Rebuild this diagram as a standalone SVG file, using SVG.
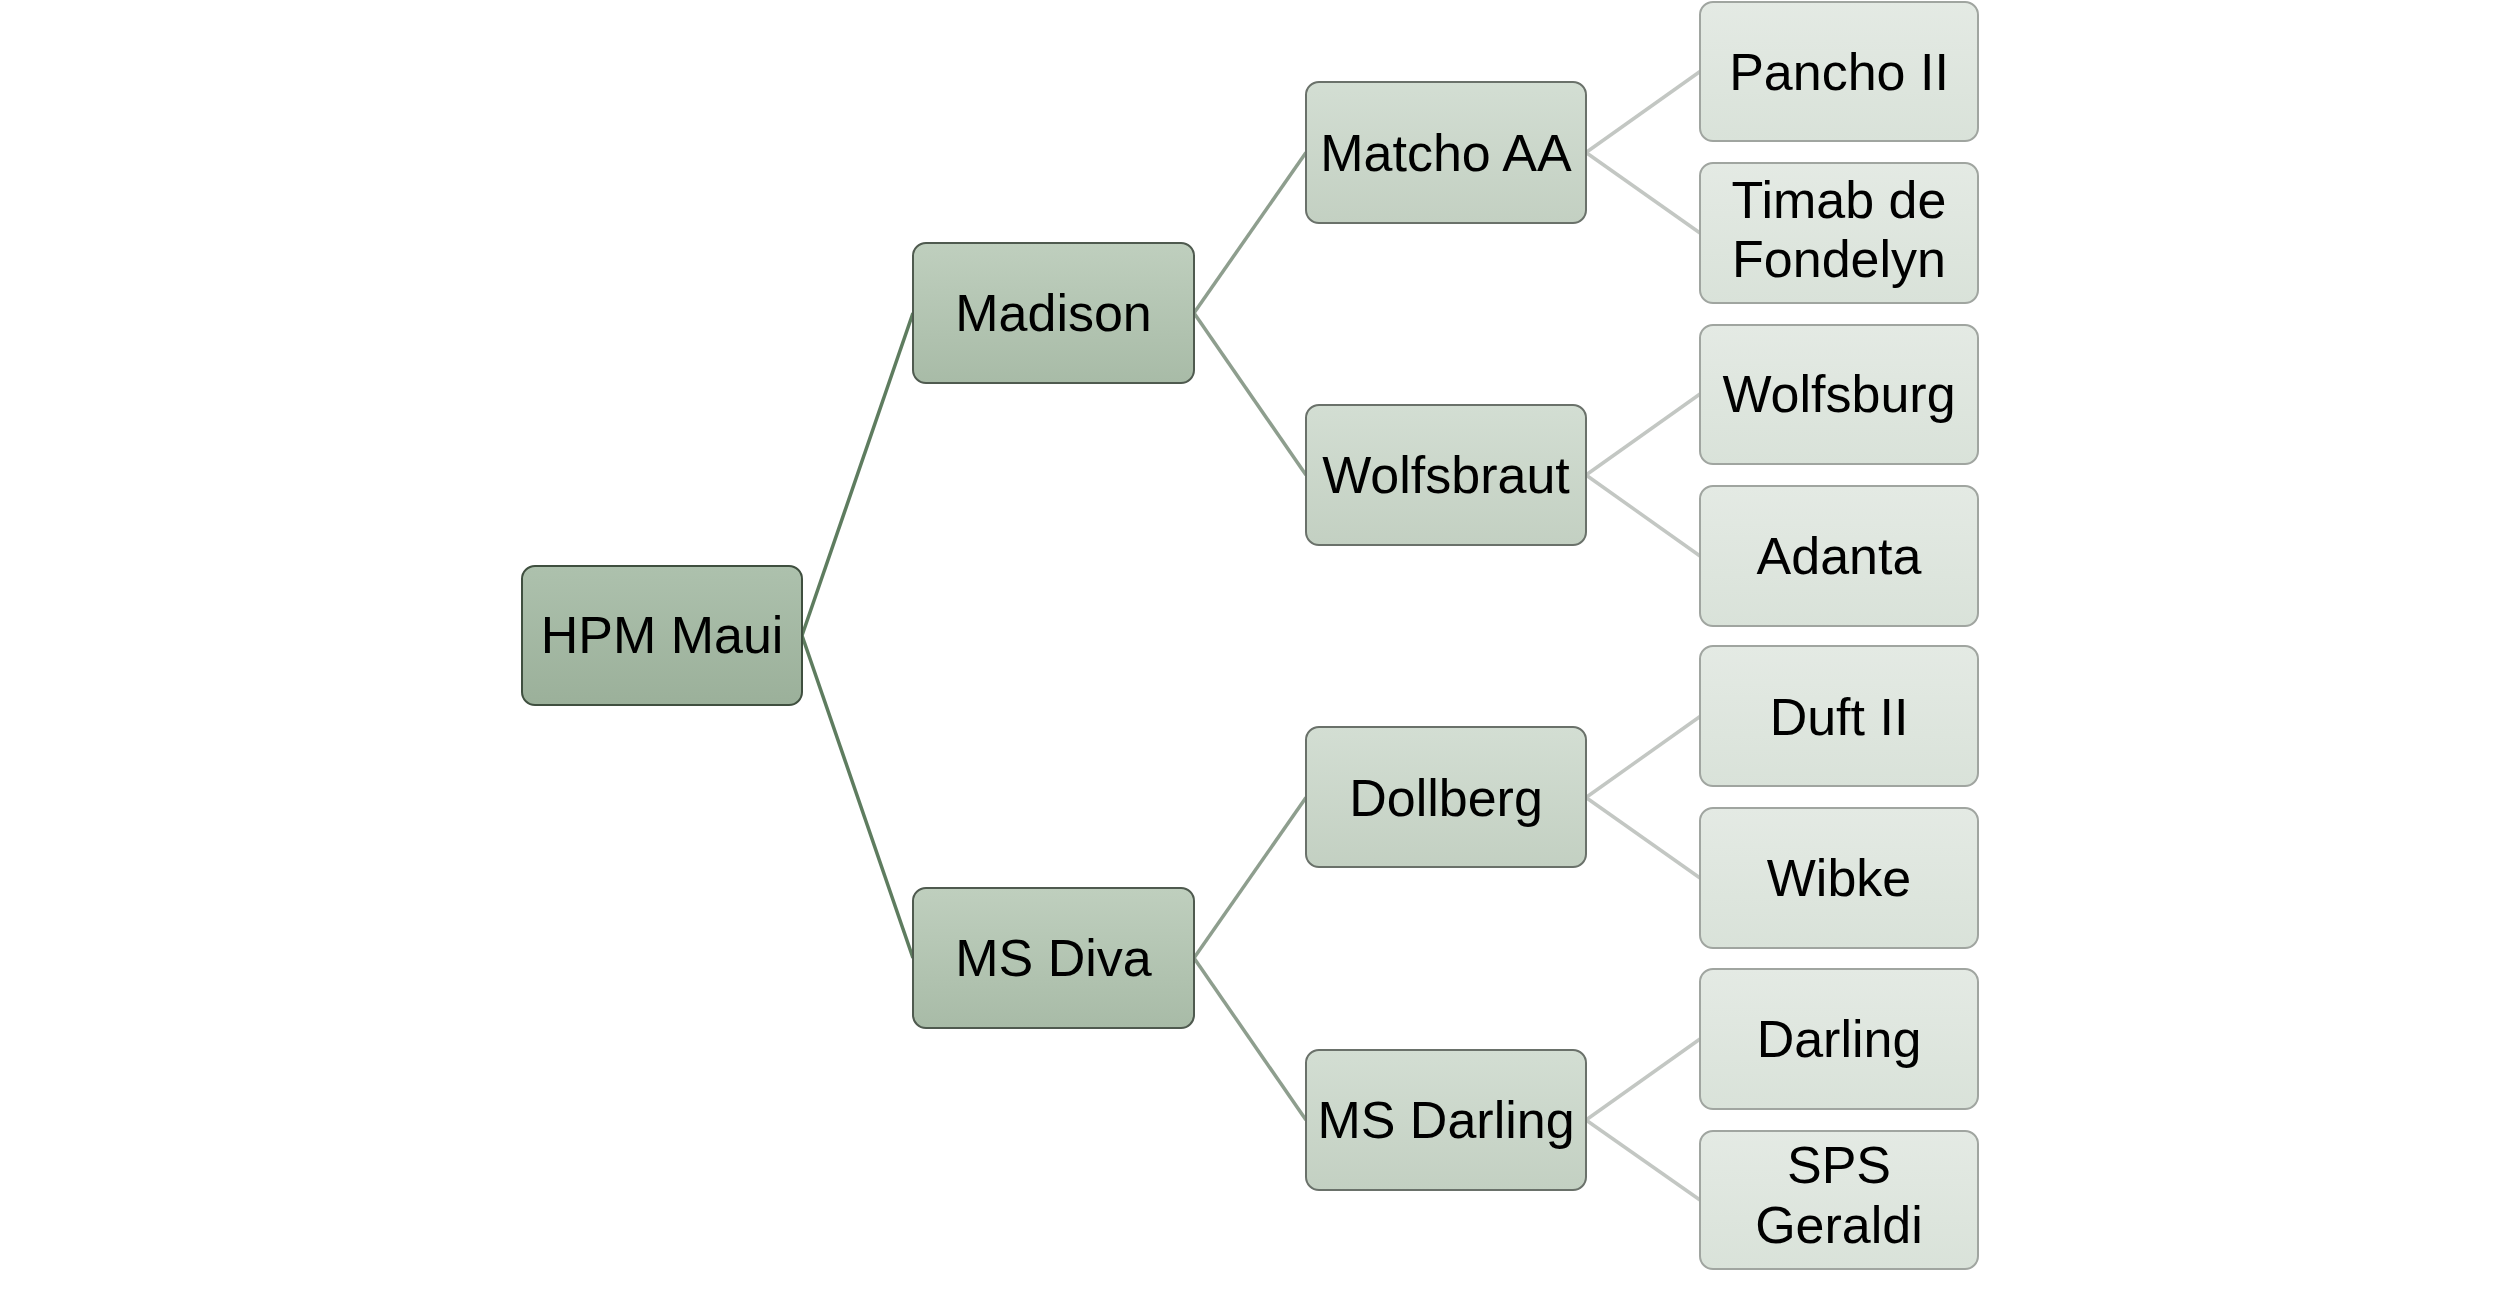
<svg xmlns="http://www.w3.org/2000/svg" width="2500" height="1292" viewBox="0 0 2500 1292">
<defs>
<linearGradient id="g0" x1="0" y1="0" x2="0" y2="1"><stop offset="0" stop-color="#adc1ad"/><stop offset="1" stop-color="#9bb09a"/></linearGradient>
<linearGradient id="g1" x1="0" y1="0" x2="0" y2="1"><stop offset="0" stop-color="#bfcfbe"/><stop offset="1" stop-color="#a8bba7"/></linearGradient>
<linearGradient id="g2" x1="0" y1="0" x2="0" y2="1"><stop offset="0" stop-color="#d3ded3"/><stop offset="1" stop-color="#c3d0c2"/></linearGradient>
<linearGradient id="g3" x1="0" y1="0" x2="0" y2="1"><stop offset="0" stop-color="#e4eae4"/><stop offset="1" stop-color="#d9e2d9"/></linearGradient>
</defs>
<style>
text{font-family:"Liberation Sans",Arial,sans-serif;font-size:52px;fill:#000;text-anchor:middle}
.n0{fill:url(#g0);stroke:#3f4f3f;stroke-width:2}
.n1{fill:url(#g1);stroke:#4f5a4f;stroke-width:2}
.n2{fill:url(#g2);stroke:#6a716a;stroke-width:2}
.n3{fill:url(#g3);stroke:#a0a5a0;stroke-width:2}
.c0{stroke:#5e7c5f;stroke-width:3.5;fill:none}
.c1{stroke:#8e9e8e;stroke-width:3.5;fill:none}
.c2{stroke:#c3c7c3;stroke-width:3.5;fill:none}
</style>
<rect width="2500" height="1292" fill="#fff"/>
<g id="connectors">
<line class="c0" x1="802" y1="635.5" x2="913" y2="313"/>
<line class="c0" x1="802" y1="635.5" x2="913" y2="958"/>
<line class="c1" x1="1194" y1="313" x2="1306" y2="152.5"/>
<line class="c1" x1="1194" y1="313" x2="1306" y2="475"/>
<line class="c1" x1="1194" y1="958" x2="1306" y2="797.5"/>
<line class="c1" x1="1194" y1="958" x2="1306" y2="1120"/>
<line class="c2" x1="1586" y1="152.5" x2="1700" y2="71.5"/>
<line class="c2" x1="1586" y1="152.5" x2="1700" y2="233"/>
<line class="c2" x1="1586" y1="475" x2="1700" y2="394"/>
<line class="c2" x1="1586" y1="475" x2="1700" y2="556"/>
<line class="c2" x1="1586" y1="797.5" x2="1700" y2="716.5"/>
<line class="c2" x1="1586" y1="797.5" x2="1700" y2="878"/>
<line class="c2" x1="1586" y1="1120" x2="1700" y2="1039"/>
<line class="c2" x1="1586" y1="1120" x2="1700" y2="1200"/>
</g>
<g id="hpm-maui"><rect class="n0" x="522" y="566" width="280" height="139" rx="13"/><text x="662" y="653">HPM Maui</text></g>
<g id="madison"><rect class="n1" x="913" y="243" width="281" height="140" rx="13"/><text x="1053.5" y="331">Madison</text></g>
<g id="ms-diva"><rect class="n1" x="913" y="888" width="281" height="140" rx="13"/><text x="1053.5" y="976">MS Diva</text></g>
<g id="matcho-aa"><rect class="n2" x="1306" y="82" width="280" height="141" rx="13"/><text x="1446" y="171">Matcho AA</text></g>
<g id="wolfsbraut"><rect class="n2" x="1306" y="405" width="280" height="140" rx="13"/><text x="1446" y="493">Wolfsbraut</text></g>
<g id="dollberg"><rect class="n2" x="1306" y="727" width="280" height="140" rx="13"/><text x="1446" y="816">Dollberg</text></g>
<g id="ms-darling"><rect class="n2" x="1306" y="1050" width="280" height="140" rx="13"/><text x="1446" y="1138">MS Darling</text></g>
<g id="pancho-ii"><rect class="n3" x="1700" y="2" width="278" height="139" rx="13"/><text x="1839" y="90">Pancho II</text></g>
<g id="timab"><rect class="n3" x="1700" y="163" width="278" height="140" rx="13"/><text x="1839" y="218">Timab de</text><text x="1839" y="277">Fondelyn</text></g>
<g id="wolfsburg"><rect class="n3" x="1700" y="325" width="278" height="139" rx="13"/><text x="1839" y="412">Wolfsburg</text></g>
<g id="adanta"><rect class="n3" x="1700" y="486" width="278" height="140" rx="13"/><text x="1839" y="574">Adanta</text></g>
<g id="duft-ii"><rect class="n3" x="1700" y="646" width="278" height="140" rx="13"/><text x="1839" y="735">Duft II</text></g>
<g id="wibke"><rect class="n3" x="1700" y="808" width="278" height="140" rx="13"/><text x="1839" y="896">Wibke</text></g>
<g id="darling"><rect class="n3" x="1700" y="969" width="278" height="140" rx="13"/><text x="1839" y="1057">Darling</text></g>
<g id="sps-geraldi"><rect class="n3" x="1700" y="1131" width="278" height="138" rx="13"/><text x="1839" y="1183">SPS</text><text x="1839" y="1243">Geraldi</text></g>
</svg>
